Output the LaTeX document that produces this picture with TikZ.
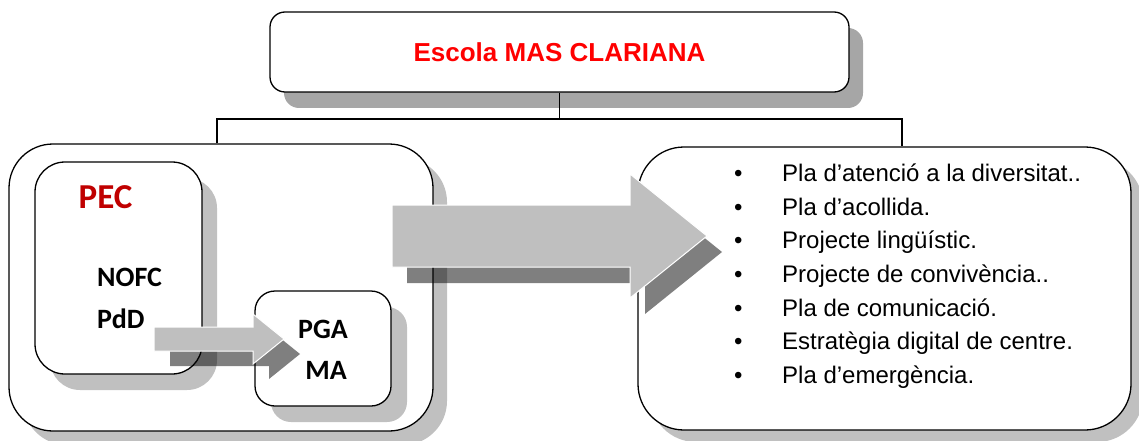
\documentclass[tikz,border=0pt]{standalone}
\usepackage{fontspec}
\setmainfont{Liberation Sans}
\newfontfamily\calibri{Carlito}
\usepackage{xcolor}
\usetikzlibrary{shapes,positioning,shadows,calc}

\definecolor{escolared}{RGB}{255,0,0}
\definecolor{pecred}{RGB}{192,0,0}
\definecolor{arrowgray}{RGB}{191,191,191}
\definecolor{shadedark}{RGB}{166,166,166}
\definecolor{shadelight}{RGB}{192,192,192}

\begin{document}
\begin{tikzpicture}[x=1pt, y=-1pt,
    box/.style={draw, line width=1.3pt, fill=white, inner sep=0pt},
    shade/.style 2 args={drop shadow={shadow xshift=#1, shadow yshift=-#2, fill=shadelight, opacity=1}},
    docfont/.style={font=\calibri\bfseries\fontsize{28}{30}\selectfont},
    flecha/.style={fill=arrowgray, draw=white, line width=1pt},
    flechashade/.style={fill=black, opacity=.5}]
    \useasboundingbox (0,0) rectangle (1139,441);

    % frames
    \node [box, rounded corners=44pt, minimum width=424pt, minimum height=287pt,
           shade={14pt}{14pt}] (projectes) at (221,287.5) {};
    \node [box, rounded corners=30pt, minimum width=167pt, minimum height=212pt,
           shade={15pt}{16pt}] (pec) at (118.5,268) {};
    \node [box, rounded corners=20pt, minimum width=136pt, minimum height=115pt,
           shade={16pt}{16pt}] (pga) at (323,348.5) {};
    \node [box, rounded corners=46pt, minimum width=493pt, minimum height=283pt,
           shade={12pt}{12pt}] (plans) at (884.5,288.5) {};
    \node [box, rounded corners=15pt, minimum width=579pt, minimum height=80pt,
           drop shadow={shadow xshift=14pt, shadow yshift=-16pt, fill=shadedark, opacity=1},
           font=\bfseries\fontsize{26}{28}\selectfont, text=escolared] (escola) at (559.5,52) {Escola MAS CLARIANA};

    % tree lines
    \coordinate (bar) at (0,119);
    \coordinate (ldrop) at ([xshift=-4pt]projectes.north);
    \coordinate (rdrop) at ([xshift=17.5pt]plans.north);
    \draw [line width=1.3pt] (escola.south) -- (escola.south |- bar);
    \draw [line width=1.3pt] (ldrop) -- (ldrop |- bar) -- (rdrop |- bar) -- (rdrop);

    % texts
    \node [font=\calibri\bfseries\fontsize{35}{36}\selectfont, text=pecred, inner sep=0pt] (pec-title) at (105.5,197) {PEC};
    \node [docfont, inner sep=0pt, anchor=west] (nofc) at (97,277) {NOFC};
    \node [docfont, inner sep=0pt, anchor=west] (pdd) at (97,319) {PdD};
    \node [docfont, inner sep=0pt] (pga-text) at (323,329) {PGA};
    \node [docfont, inner sep=0pt] (ma) at (326,370) {MA};
    \node [font=\fontsize{24}{33.6}\selectfont, inner sep=0pt, anchor=base west] (llista) at (734,181.6) {%
      \begin{tabular}[t]{@{}p{48pt}@{}l@{}}
        \textbullet & Pla d’atenció a la diversitat..\\
        \textbullet & Pla d’acollida.\\
        \textbullet & Projecte lingüístic.\\
        \textbullet & Projecte de convivència..\\
        \textbullet & Pla de comunicació.\\
        \textbullet & Estratègia digital de centre.\\
        \textbullet & Pla d’emergència.
      \end{tabular}};

    % arrows
    \fill [flechashade, shift={(15,16)}] (392,205) -- (630,205) -- (630,174) -- (707,236) -- (630,298) -- (630,267) -- (392,267) -- cycle;
    \filldraw [flecha] (392,205) -- (630,205) -- (630,174) -- (707,236) -- (630,298) -- (630,267) -- (392,267) -- cycle;
    \fill [flechashade, shift={(16,15)}] (154,327) -- (253,327) -- (253,314) -- (284,339) -- (253,364) -- (253,351) -- (154,351) -- cycle;
    \filldraw [flecha] (154,327) -- (253,327) -- (253,314) -- (284,339) -- (253,364) -- (253,351) -- (154,351) -- cycle;
\end{tikzpicture}
\end{document}
